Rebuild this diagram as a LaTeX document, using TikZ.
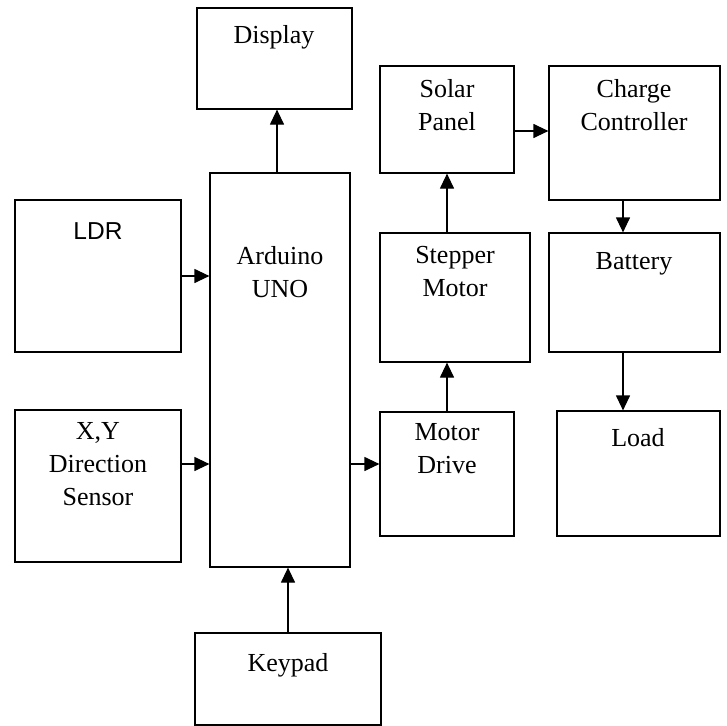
\documentclass[tikz,border=0pt]{standalone}
\usepackage{fontspec}
\setmainfont{Liberation Serif}
\newfontfamily\ldrfont{Liberation Sans}
\usetikzlibrary{arrows.meta}
\tikzset{
  blk/.style={draw=black, line width=1.2pt, inner sep=0pt, fill=white},
  lbl/.style={inner sep=0pt, anchor=north, align=center, font=\fontsize{26}{33}\selectfont, execute at begin node=\strut},
  arr/.style={draw=black, line width=1.2pt, -{Triangle[length=15pt,width=14pt]}}
}
\begin{document}
\begin{tikzpicture}[x=1pt,y=-1pt]
\useasboundingbox (0,0) rectangle (726,726);
% boxes
\node[blk, minimum width=155pt, minimum height=101pt] (disp) at (274.5,58.5) {};
\node[blk, minimum width=140pt, minimum height=394pt] (ard) at (280,370) {};
\node[blk, minimum width=166pt, minimum height=152pt] (ldr) at (98,276) {};
\node[blk, minimum width=166pt, minimum height=152pt] (xy) at (98,486) {};
\node[blk, minimum width=186pt, minimum height=92pt] (key) at (288,679) {};
\node[blk, minimum width=134pt, minimum height=107pt] (sol) at (447,119.5) {};
\node[blk, minimum width=171pt, minimum height=134pt] (chg) at (634.5,133) {};
\node[blk, minimum width=150pt, minimum height=129pt] (stp) at (455,297.5) {};
\node[blk, minimum width=171pt, minimum height=119pt] (bat) at (634.5,292.5) {};
\node[blk, minimum width=134pt, minimum height=124pt] (drv) at (447,474) {};
\node[blk, minimum width=163pt, minimum height=125pt] (load) at (638.5,473.5) {};
% labels (position = first baseline - 23.1)
\node[lbl] (tdisp) at (274,20.4) {Display};
\node[lbl] (tard) at (280,245.9) {Arduino\\UNO};
\node[lbl, font=\ldrfont\fontsize{24.5}{33}\selectfont] (tldr) at (98,215.9) {LDR};
\node[lbl] (txy) at (98,421.9) {X,Y\\Direction\\Sensor};
\node[lbl] (tkey) at (288,647.9) {Keypad};
\node[lbl] (tsol) at (447,78.9) {Solar\\Panel};
\node[lbl] (tchg) at (634,78.9) {Charge\\Controller};
\node[lbl] (tstp) at (455,245.9) {Stepper\\Motor};
\node[lbl] (tbat) at (634,245.9) {Battery};
\node[lbl] (tdrv) at (447,422.9) {Motor\\Drive};
\node[lbl] (tload) at (638,422.9) {Load};
% connectors
\draw[arr] ([xshift=-3pt]ard.north) -- ([xshift=-3pt]ard.north |- disp.south);
\draw[arr] (ldr.east) -- (ldr.east -| ard.west);
\draw[arr] ([yshift=22pt]xy.east) -- ([yshift=22pt]xy.east -| ard.west);
\draw[arr] ([yshift=10pt]drv.west -| ard.east) -- ([yshift=10pt]drv.west);
\draw[arr] (key.north) -- (key.north |- ard.south);
\draw[arr] (drv.north) -- (drv.north |- stp.south);
\draw[arr] (sol.south |- stp.north) -- (sol.south);
\draw[arr] ([yshift=-11.5pt]sol.east) -- ([yshift=-11.5pt]sol.east -| chg.west);
\draw[arr] ([xshift=-11.5pt]chg.south) -- ([xshift=-11.5pt]chg.south |- bat.north);
\draw[arr] ([xshift=-11.5pt]bat.south) -- ([xshift=-11.5pt]bat.south |- load.north);
\end{tikzpicture}
\end{document}
